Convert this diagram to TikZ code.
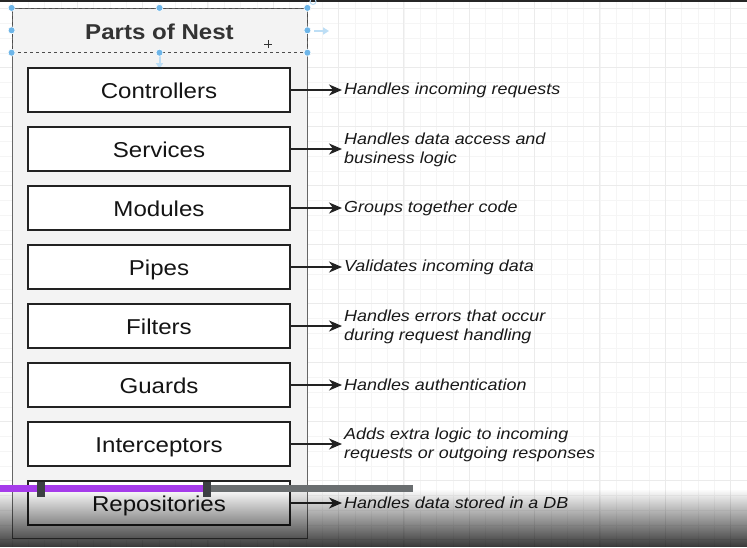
\documentclass[tikz,border=0pt]{standalone}
\usepackage{fontspec}
\setmainfont{Liberation Sans}[FakeStretch=1.12]
\usetikzlibrary{arrows.meta,fadings}
\definecolor{gridminor}{HTML}{F5F5F5}
\definecolor{gridmajor}{HTML}{EBEBEB}
\definecolor{lanefill}{HTML}{F3F3F3}
\definecolor{laneline}{HTML}{666666}
\definecolor{boxline}{HTML}{222222}
\definecolor{selblue}{HTML}{6DB5E8}
\definecolor{barpurple}{HTML}{A53BEA}
\definecolor{bargray}{HTML}{6A6E70}
\definecolor{barknob}{HTML}{3C4043}
\tikzfading[name=fadedown, top color=transparent!100, bottom color=transparent!22]
\tikzset{
  partbox/.style={draw=boxline, line width=1.5pt, fill=white, minimum width=262pt,
    minimum height=44pt, inner sep=0pt, font=\fontsize{21.5}{25}\selectfont, text=black!92,
    text height=19pt, text depth=2.4pt},
  desc/.style={anchor=west, inner sep=0pt, align=left,
    font=\fontsize{16}{19}\selectfont\itshape, text=black!90},
  link/.style={line width=1.4pt, draw=boxline, -{Stealth[length=13pt,width=11pt,inset=4pt]}, shorten >=2pt},
  handle/.style={circle, fill=selblue, draw=white, line width=0.6pt, inner sep=0pt, minimum size=7pt},
  ghostarrow/.style={draw=selblue!45, line width=2pt, -{Triangle[length=6pt,width=7pt]}}
}
\begin{document}
\begin{tikzpicture}[x=1pt,y=-1pt]
\useasboundingbox (0,0) rectangle (747,547);
\fill[white] (0,0) rectangle (747,547);
% grid
\foreach \n in {0,...,45}{\pgfmathsetmacro\xx{12+16.333*\n}\draw[gridminor,line width=0.8pt] (\xx,0) -- (\xx,547);}
\foreach \m in {0,...,36}{\pgfmathsetmacro\yy{8.7+14.75*\m}\draw[gridminor,line width=0.8pt] (0,\yy) -- (747,\yy);}
\foreach \n in {0,4,...,44}{\pgfmathsetmacro\xx{12+16.333*\n}\draw[gridmajor,line width=1pt] (\xx,0) -- (\xx,547);}
\foreach \m in {0,4,...,36}{\pgfmathsetmacro\yy{8.7+14.75*\m}\draw[gridmajor,line width=1pt] (0,\yy) -- (747,\yy);}
\fill[black!85] (0,0) rectangle (747,1.6);
% container
\node[draw=laneline, line width=1pt, fill=lanefill, minimum width=295pt, minimum height=530pt, inner sep=0pt] (lane) at (159.5,273) {};
\node[draw=black!70, dashed, line width=0.8pt, minimum width=295pt, minimum height=44pt, inner sep=0pt] (header) at (159.5,30.3) {};
\node[font=\fontsize{21.5}{25}\selectfont\bfseries, text=black!80, yshift=-2pt] (title) at (header.center) {Parts of Nest};
% ghost handles of selection
\draw[ghostarrow] (314,31) -- (329,31);
\draw[ghostarrow] (159.5,56) -- (159.5,69);
\draw[selblue!50, line width=1pt] (313,1.5) circle (3pt);
\foreach \p in {header.north west,header.north,header.north east,header.west,header.east,header.south west,header.south,header.south east}
  \node[handle] at (\p) {};
% move cursor
\coordinate (cur) at (268,44);
\draw[black!80, line width=1pt] ([xshift=-4pt]cur) -- ([xshift=4pt]cur) ([yshift=-4pt]cur) -- ([yshift=4pt]cur);
% parts
\node[partbox] (b1) at (159,90)  {Controllers};
\node[partbox] (b2) at (159,149) {Services};
\node[partbox] (b3) at (159,208) {Modules};
\node[partbox] (b4) at (159,267) {Pipes};
\node[partbox] (b5) at (159,326) {Filters};
\node[partbox] (b6) at (159,385) {Guards};
\node[partbox] (b7) at (159,444) {Interceptors};
\node[partbox] (b8) at (159,503) {Repositories};
% descriptions
\node[desc] (d1) at (344,90.5)  {Handles incoming requests};
\node[desc] (d2) at (344,149.5) {Handles data access and\\business logic};
\node[desc] (d3) at (344,208.5) {Groups together code};
\node[desc] (d4) at (344,267.5) {Validates incoming data};
\node[desc] (d5) at (344,326.5) {Handles errors that occur\\during request handling};
\node[desc] (d6) at (344,384.5) {Handles authentication};
\node[desc] (d7) at (344,444.5) {Adds extra logic to incoming\\requests or outgoing responses};
\node[desc] (d8) at (344,502.5) {Handles data stored in a DB};
\foreach \i in {1,...,8}
  \draw[link] (b\i.east) -- (b\i.east -| d\i.west);
% video overlay
\fill[black, path fading=fadedown] (0,489) rectangle (747,547);
\fill[bargray] (207,485) rectangle (413,491.5);
\fill[barpurple] (0,485) rectangle (207,491.5);
\fill[barknob] (37,482) rectangle (45,496.5);
\fill[barknob] (203,482) rectangle (211,496.5);
\end{tikzpicture}
\end{document}
